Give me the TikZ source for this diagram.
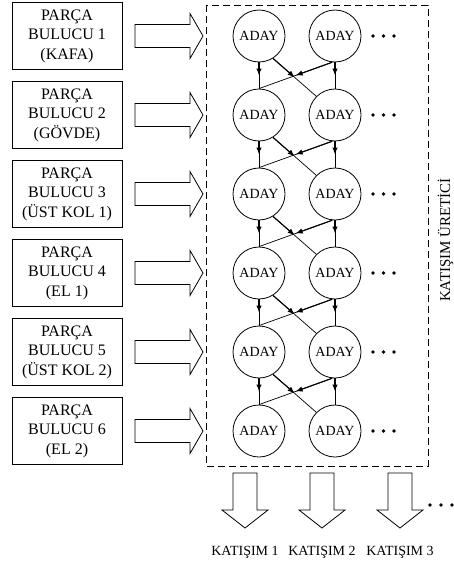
\documentclass[tikz,border=0pt]{standalone}
\usepackage{fontspec}
\setmainfont{Liberation Serif}
\usetikzlibrary{calc,arrows.meta}
\begin{document}
\begin{tikzpicture}[x=1pt,y=-1pt,
 box/.style={draw, line width=0.8pt, minimum width=110pt, minimum height=67pt, align=center, inner sep=0pt, font=\fontsize{16}{19.5}\selectfont},
 cand/.style={draw, circle, line width=0.8pt, minimum size=52pt, inner sep=0pt, font=\fontsize{14}{16}\selectfont},
 blockarrow/.style={draw, line width=0.8pt, fill=white},
 link/.style={line width=0.7pt},
 flow/.style={line width=1.1pt, -{Latex[length=7pt,width=5.5pt]}},
 dotsym/.style={circle, fill, inner sep=0pt, minimum size=3.8pt},
 lab/.style={font=\fontsize{14}{16}\selectfont, inner sep=0pt},
 frame/.style={line width=1pt, dash pattern=on 7pt off 4pt}
]
\useasboundingbox (0,0) rectangle (454,565);

\draw[frame] (206,5) rectangle (428,466);

\foreach \i/\y/\t in {1/36/(KAFA), 2/115/(GÖVDE), 3/194/(ÜST KOL 1), 4/273/(EL 1), 5/352/(ÜST KOL 2), 6/431/(EL 2)} {
  \node[box] (b\i) at (67,\y) {PARÇA\\BULUCU \i\\\t};
  \draw[blockarrow] (135,\y-11.5) -- (190,\y-11.5) -- (190,\y-22.5) -- (203,\y) -- (190,\y+22.5) -- (190,\y+11.5) -- (135,\y+11.5) -- cycle;
  \node[cand] (c1\i) at (259,\y) {ADAY};
  \node[cand] (c2\i) at (335,\y) {ADAY};
  \node[dotsym] (da\i) at (373,\y) {};
  \node[dotsym] (db\i) at (383.5,\y) {};
  \node[dotsym] (dc\i) at (394,\y) {};
}

\foreach \i in {1,...,5} {
  \pgfmathtruncatemacro{\j}{\i+1}
  \draw[link] (c1\i.south) -- (c1\j.north);
  \draw[flow] (c1\i.south) -- ($(c1\i.south)!0.5!(c1\j.north)$);
  \draw[link] (c2\i.south) -- (c2\j.north);
  \draw[flow] (c2\i.south) -- ($(c2\i.south)!0.5!(c2\j.north)$);
  \draw[link] (c1\i.-58) -- (c2\j.135);
  \draw[flow] (c1\i.-58) -- ($(c1\i.-58)!0.5!(c2\j.135)$);
  \draw[link] (c2\i.-96) -- (c1\j.north);
  \draw[flow] (c2\i.-96) -- ($(c2\i.-96)!0.5!(c1\j.north)$);
}

\foreach \k/\x in {1/245, 2/322, 3/400} {
  \draw[blockarrow] (\x-12,473) -- (\x+12,473) -- (\x+12,510) -- (\x+23,510) -- (\x,528) -- (\x-23,510) -- (\x-12,510) -- cycle;
  \node[lab] (k\k) at (\x,552) {KATIŞIM \k};
}

\node[dotsym] (ea) at (430,505) {};
\node[dotsym] (eb) at (441,505) {};
\node[dotsym] (ec) at (452,505) {};

\node[lab, rotate=90, font=\fontsize{15}{17}\selectfont] (gen) at (445.5,240) {KATIŞIM ÜRETİCİ};
\end{tikzpicture}
\end{document}
